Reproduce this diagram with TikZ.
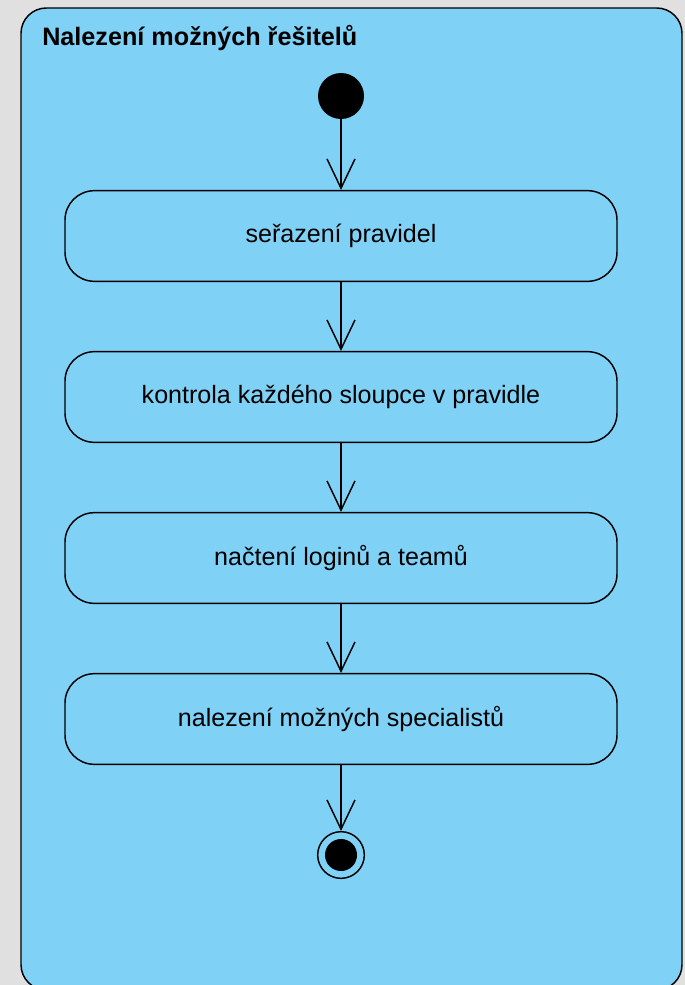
\documentclass[tikz,border=0pt]{standalone}
\usepackage{fontspec}
\setmainfont{Liberation Sans}
\usetikzlibrary{arrows.meta}
\definecolor{pozadi}{RGB}{224,224,224}
\definecolor{oblast}{RGB}{128,209,246}
\tikzset{
  krok/.style={draw, line width=1.1pt, rounded corners=22pt, minimum width=414pt,
    minimum height=68pt, font=\fontsize{18.8}{22}\selectfont},
  sipka/.style={line width=1.1pt, -{Straight Barb[length=22pt,width=21pt,line width=1.1pt]}}
}
\begin{document}
\begin{tikzpicture}[x=0.75pt,y=-0.75pt]
	\fill[pozadi] (0,0) rectangle (685,985);
	\useasboundingbox (0,0) rectangle (685,985);
	\draw[fill=oblast, line width=1.1pt, rounded corners=19pt] (21,8) rectangle (682,990);
	\node[anchor=base west, inner sep=0pt, font=\bfseries\fontsize{18.9}{22}\selectfont] (nazev) at (42,45) {Nalezení možných řešitelů};
	% start a konec
	\node[circle, fill=black, minimum size=34.5pt, inner sep=0pt] (start) at (341,96) {};
	\node[draw, circle, line width=1.1pt, minimum size=35pt, inner sep=0pt] (konec) at (341,855) {};
	\fill (konec.center) circle (12pt);
	% kroky
	\node[krok] (serazeni) at (341,236) {seřazení pravidel};
	\node[krok] (kontrola) at (341,397) {kontrola každého sloupce v pravidle};
	\node[krok] (nacteni) at (341,558) {načtení loginů a teamů};
	\node[krok] (nalezeni) at (341,719) {nalezení možných specialistů};
	% prechody
	\draw[sipka] (start) -- (serazeni);
	\draw[sipka] (serazeni) -- (kontrola);
	\draw[sipka] (kontrola) -- (nacteni);
	\draw[sipka] (nacteni) -- (nalezeni);
	\draw[sipka] (nalezeni) -- (konec);
\end{tikzpicture}
\end{document}
